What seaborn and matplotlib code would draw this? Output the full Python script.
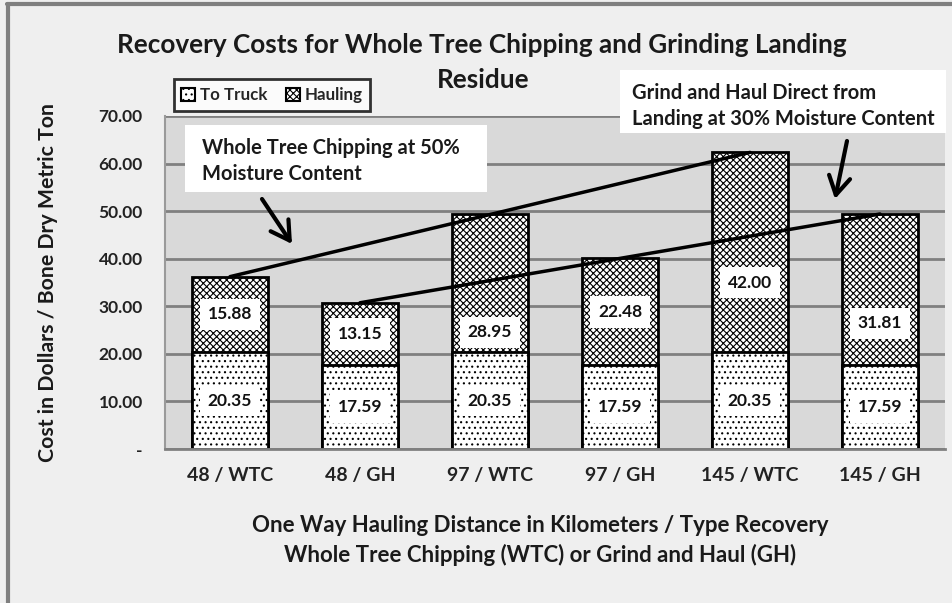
import matplotlib
matplotlib.use("Agg")
import matplotlib.pyplot as plt
import seaborn as sns
import pandas as pd
from matplotlib.patches import Patch, Rectangle, FancyArrowPatch
from matplotlib.lines import Line2D
from matplotlib.ticker import FuncFormatter

categories = ['48 / WTC', '48 / GH', '97 / WTC', '97 / GH', '145 / WTC', '145 / GH']
to_truck = [20.35, 17.59, 20.35, 17.59, 20.35, 17.59]
hauling = [15.88, 13.15, 28.95, 22.48, 42.00, 31.81]
# where each hauling value label sits (some were moved off the segment centre in the original)
hauling_label_at = [28.29, 24.17, 24.5, 28.83, 35.0, 26.4]
y_ticks = [0, 10, 20, 30, 40, 50, 60, 70]

title = "Recovery Costs for Whole Tree Chipping and Grinding Landing"
title2 = "Residue"
xlabel1 = "One Way Hauling Distance in Kilometers / Type Recovery"
xlabel2 = "Whole Tree Chipping (WTC) or Grind and Haul (GH)"
ylabel = "Cost in Dollars / Bone Dry Metric Ton"
note_wtc = "Whole Tree Chipping at 50%\nMoisture Content"
note_gh = "Grind and Haul Direct from\nLanding at 30% Moisture Content"

sns.set_style("white")
plt.rcParams['font.family'] = ['Lato', 'DejaVu Sans']
plt.rcParams['font.weight'] = 'bold'
plt.rcParams['hatch.linewidth'] = 0.8

W, H = 953, 603
fig = plt.figure(figsize=(W / 100, H / 100), dpi=100)
fig.patch.set_facecolor('#efefef')

def fx(px):
    return px / W

def fy(py):
    return 1 - py / H

ax = fig.add_axes([fx(165), fy(449), fx(945) - fx(165), fy(116) - fy(449)])
ax.set_facecolor('#d9d9d9')

totals = [a + b for a, b in zip(to_truck, hauling)]
df = pd.DataFrame({'cat': categories, 'to_truck': to_truck, 'hauling': hauling, 'total': totals})

sns.barplot(data=df, x='cat', y='total', ax=ax, color='white', saturation=1,
            edgecolor='black', linewidth=2, hatch='xxxxx', width=0.58, errorbar=None)
sns.barplot(data=df, x='cat', y='to_truck', ax=ax, color='white', saturation=1,
            edgecolor='black', linewidth=2, hatch='...', width=0.58, errorbar=None)

ax.set_xlim(-0.5, len(categories) - 0.5)
ax.set_ylim(0, 70)
ax.set_yticks(y_ticks)
ax.yaxis.set_major_formatter(FuncFormatter(lambda v, p: '-' if v == 0 else f'{v:.2f}'))
ax.yaxis.grid(True, color='#808080', linewidth=2)
ax.set_axisbelow(True)
for s in ['top', 'right']:
    ax.spines[s].set_visible(False)
ax.spines['left'].set_color('#9a9a9a')
ax.spines['left'].set_linewidth(1.5)
ax.spines['bottom'].set_color('#808080')
ax.spines['bottom'].set_linewidth(2)
ax.tick_params(axis='y', length=0, pad=16, labelsize=12.5, colors='#222222')
ax.tick_params(axis='x', length=0, pad=13, labelsize=14, colors='#222222')
for lab in ax.get_xticklabels() + ax.get_yticklabels():
    lab.set_fontweight('bold')
ax.set_xlabel('')
ax.set_ylabel('')

# value labels
lab_box = dict(boxstyle='square,pad=0.45', facecolor='white', edgecolor='none')
for i in range(len(categories)):
    ax.text(i, to_truck[i] / 2, f'{to_truck[i]:.2f}', ha='center', va='center',
            fontsize=12.5, fontweight='bold', color='#111111', bbox=lab_box, zorder=6)
    ax.text(i, hauling_label_at[i], f'{hauling[i]:.2f}', ha='center', va='center',
            fontsize=12.5, fontweight='bold', color='#111111', bbox=lab_box, zorder=6)

# trend lines between bar tops
ax.plot([0, 4], [totals[0], totals[4]], color='black', linewidth=2.5, solid_capstyle='round', zorder=5)
ax.plot([1, 5], [totals[1], totals[5]], color='black', linewidth=2.5, solid_capstyle='round', zorder=5)

# titles
fig.text(fx(482), fy(45), title, ha='center', va='center', fontsize=18.8, fontweight='bold', color='#1a1a1a')
fig.text(fx(483), fy(80), title2, ha='center', va='center', fontsize=18.8, fontweight='bold', color='#1a1a1a')
fig.text(fx(48), fy(283), ylabel, ha='center', va='center', rotation=90, fontsize=15.3, fontweight='bold', color='#1a1a1a')
fig.text(fx(540), fy(526), xlabel1, ha='center', va='center', fontsize=16, fontweight='bold', color='#1a1a1a')
fig.text(fx(540), fy(555), xlabel2, ha='center', va='center', fontsize=16, fontweight='bold', color='#1a1a1a')

# annotation boxes
fig.patches.append(Rectangle((fx(185), fy(192)), fx(487) - fx(185), fy(125) - fy(192),
                             transform=fig.transFigure, facecolor='white', edgecolor='none', zorder=3))
fig.text(fx(202), fy(161), note_wtc, ha='left', va='center', fontsize=14.5, fontweight='bold',
         color='#1a1a1a', linespacing=1.35, zorder=4)
fig.patches.append(Rectangle((fx(620), fy(133)), fx(946) - fx(620), fy(70) - fy(133),
                             transform=fig.transFigure, facecolor='white', edgecolor='none', zorder=3))
fig.text(fx(632), fy(106), note_gh, ha='left', va='center', fontsize=14.5, fontweight='bold',
         color='#1a1a1a', linespacing=1.35, zorder=4)

arrow_kw = dict(arrowstyle='->,head_length=0.6,head_width=0.35', color='black', lw=3,
                mutation_scale=22, shrinkA=0, shrinkB=0)
fig.add_artist(FancyArrowPatch((fx(262), fy(199)), (fx(292), fy(244)),
                               transform=fig.transFigure, **arrow_kw))
fig.add_artist(FancyArrowPatch((fx(847), fy(141)), (fx(835), fy(199)),
                               transform=fig.transFigure, **arrow_kw))

# legend
handles = [Patch(facecolor='white', edgecolor='black', hatch='...', linewidth=1.5, label='To Truck'),
           Patch(facecolor='white', edgecolor='black', hatch='xxxxx', linewidth=1.5, label='Hauling')]
leg = fig.legend(handles=handles, loc='center', bbox_to_anchor=(fx(272), fy(95)), ncol=2,
                 frameon=True, fancybox=False, handlelength=0.8, handleheight=0.8,
                 handletextpad=0.3, columnspacing=1.1, borderpad=0.45, prop={'weight': 'bold', 'size': 12.2})
leg.get_frame().set_edgecolor('black')
leg.get_frame().set_linewidth(2)
leg.get_frame().set_facecolor('white')

# figure frame (left and top)
fig.add_artist(Line2D([fx(8.5), fx(8.5)], [0, fy(4)], transform=fig.transFigure, color='#7f7f7f', lw=3))
fig.add_artist(Line2D([fx(7), 1], [fy(4), fy(4)], transform=fig.transFigure, color='#7f7f7f', lw=3))

fig.savefig('out.png', dpi=100, facecolor=fig.get_facecolor())
